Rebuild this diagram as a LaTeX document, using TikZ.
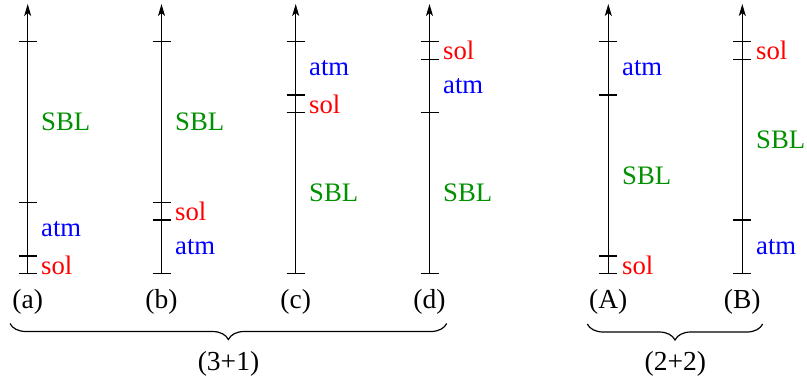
\documentclass[tikz,border=0pt]{standalone}
\usepackage{fontspec}
\setmainfont{Liberation Serif}
\usetikzlibrary{arrows.meta,decorations.pathreplacing}
\definecolor{sblgreen}{RGB}{0,144,0}
\newcommand\drawticks[2]{\foreach \yy in {#2} {\draw[tickline] (#1-9,\yy) -- (#1+9,\yy);}}
\begin{document}
\begin{tikzpicture}[x=1pt,y=-1pt,
  axisline/.style={line width=1.2pt,-{Stealth[length=12pt,width=7pt,inset=3pt]}},
  tickline/.style={line width=1.2pt},
  lab/.style={anchor=west,inner sep=0pt,font=\fontsize{26.7}{30}\selectfont},
  sbl/.style={lab,text=sblgreen},
  atm/.style={lab,text=blue},
  sol/.style={lab,text=red},
  caplab/.style={anchor=base,inner sep=0pt,font=\fontsize{27.5}{31}\selectfont},
  bracestyle/.style={decorate,decoration={brace,mirror,amplitude=16pt},line width=1.2pt}]
\useasboundingbox (0,0) rectangle (807,378);
% axes
\foreach \n/\x in {a/27.7,b/161.5,c/295.7,d/429.5,A/608.3,B/742.3} {
  \coordinate (\n0) at (\x,273.7);
  \coordinate (\n1) at (\x,4);
  \draw[axisline] (\n0) -- (\n1);
}
% ticks
\drawticks{27.7}{41.7,202.3,256,273.7}
\drawticks{161.5}{41.7,202.3,220,273.7}
\drawticks{295.7}{41.7,95,112.7,273.7}
\drawticks{429.5}{41.7,59.3,112.7,273.7}
\drawticks{608.3}{41.7,95,256,273.7}
\drawticks{742.3}{41.7,59.3,220,273.7}
% labels (a)
\node[sbl] (a-sbl) at (41,122) {SBL};
\node[atm] (a-atm) at (41,229) {atm};
\node[sol] (a-sol) at (41,265) {sol};
% (b)
\node[sbl] (b-sbl) at (175,122) {SBL};
\node[sol] (b-sol) at (175,211.2) {sol};
\node[atm] (b-atm) at (175,247) {atm};
% (c)
\node[atm] (c-atm) at (309,68.4) {atm};
\node[sol] (c-sol) at (309,103.9) {sol};
\node[sbl] (c-sbl) at (309,193.2) {SBL};
% (d)
\node[sol] (d-sol) at (443,50.5) {sol};
\node[atm] (d-atm) at (443,86) {atm};
\node[sbl] (d-sbl) at (443,193.2) {SBL};
% (A)
\node[atm] (A-atm) at (622,68.4) {atm};
\node[sbl] (A-sbl) at (622,175.5) {SBL};
\node[sol] (A-sol) at (622,265) {sol};
% (B)
\node[sol] (B-sol) at (756,50.5) {sol};
\node[sbl] (B-sbl) at (756,139.6) {SBL};
\node[atm] (B-atm) at (756,247) {atm};
% captions
\node[caplab] (cap-a) at (27.7,308.5) {(a)};
\node[caplab] (cap-b) at (161.5,308.5) {(b)};
\node[caplab] (cap-c) at (295.7,308.5) {(c)};
\node[caplab] (cap-d) at (429.5,308.5) {(d)};
\node[caplab] (cap-A) at (608.3,308.5) {(A)};
\node[caplab] (cap-B) at (742.3,308.5) {(B)};
% braces
\coordinate (br1l) at (10,323.5);
\coordinate (br1r) at (446.7,323.5);
\coordinate (br2l) at (587.3,324);
\coordinate (br2r) at (762.7,324);
\draw[bracestyle] (br1l) -- (br1r);
\draw[bracestyle] (br2l) -- (br2r);
\node[caplab] (g1) at (228.5,370) {(3+1)};
\node[caplab] (g2) at (675.3,370) {(2+2)};
\end{tikzpicture}
\end{document}
